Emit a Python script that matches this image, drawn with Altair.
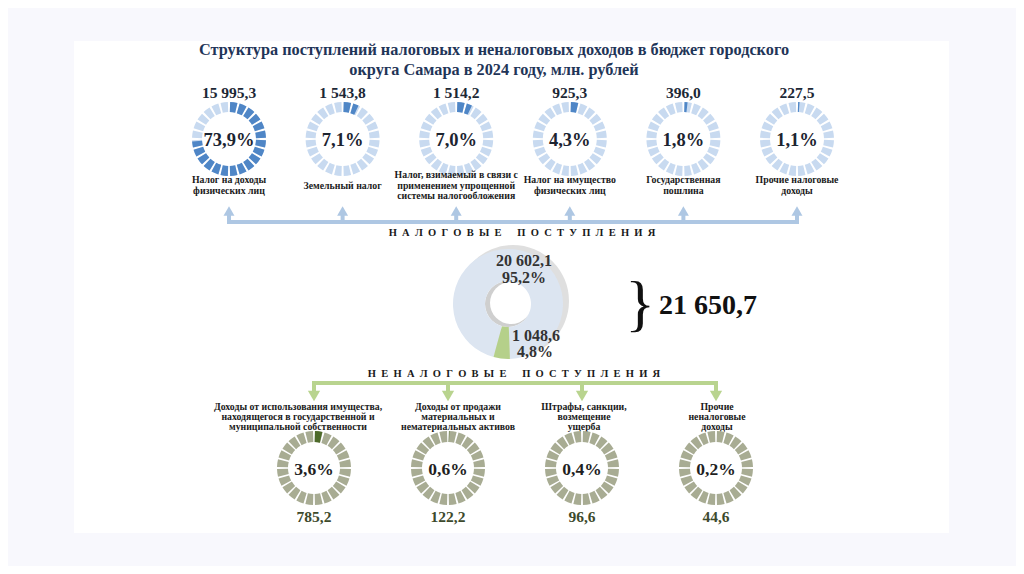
import math
import altair as alt
import pandas as pd

# ---------------- data ----------------
title_lines = [
    "Структура поступлений налоговых и неналоговых доходов в бюджет городского",
    "округа Самара в 2024 году, млн. рублей",
]
tax_names = [
    "Налог на доходы\nфизических лиц",
    "Земельный налог",
    "Налог, взимаемый в связи с\nприменением упрощенной\nсистемы налогообложения",
    "Налог на имущество\nфизических лиц",
    "Государственная\nпошлина",
    "Прочие налоговые\nдоходы",
]
tax_values = [15995.3, 1543.8, 1514.2, 925.3, 396.0, 227.5]
tax_pct = [73.9, 7.1, 7.0, 4.3, 1.8, 1.1]

nontax_names = [
    "Доходы от использования имущества,\nнаходящегося в государственной и\nмуниципальной собственности",
    "Доходы от продажи\nматериальных и\nнематериальных активов",
    "Штрафы, санкции,\nвозмещение\nущерба",
    "Прочие\nненалоговые\nдоходы",
]
nontax_values = [785.2, 122.2, 96.6, 44.6]
nontax_pct = [3.6, 0.6, 0.4, 0.2]

group_names = ["НАЛОГОВЫЕ ПОСТУПЛЕНИЯ", "НЕНАЛОГОВЫЕ ПОСТУПЛЕНИЯ"]
group_values = [20602.1, 1048.6]
group_pct = [95.2, 4.8]
total_value = 21650.7

# ---------------- helpers ----------------
def ru(v):
    return f"{v:,.1f}".replace(",", " ").replace(".", ",")

def pc(p):
    return f"{p:.1f}%".replace(".", ",")

def spaced(s):
    return "\u2002".join(list(s.replace(" ", "\u2002")))

def first_line_y(center, text, lh):
    n = text.count("\n") + 1
    return center - (n - 1) * lh / 2

SERIF = "Liberation Serif"
xs = alt.Scale(domain=[8, 1016], nice=False, zero=False)
ys = alt.Scale(domain=[8, 566], nice=False, zero=False, reverse=True)

def X(f="x"):
    return alt.X(f"{f}:Q", scale=xs, axis=None)

def Y(f="y"):
    return alt.Y(f"{f}:Q", scale=ys, axis=None)

def text_layer(df, size, color="#1a1a1a", weight="bold", align="center",
               baseline="middle", line_height=10, font=SERIF):
    return alt.Chart(pd.DataFrame(df)).mark_text(
        font=font, fontSize=size, fontWeight=weight, color=color, align=align,
        baseline=baseline, lineBreak="\n", lineHeight=line_height
    ).encode(x=X(), y=Y(), text="text:N")

def arc_layer(df, color, r, r2, opacity=1.0):
    return alt.Chart(pd.DataFrame(df)).mark_arc(
        radius=r, radius2=r2, color=color, opacity=opacity
    ).encode(
        x=X("cx"), y=Y("cy"),
        theta=alt.Theta("t0:Q", scale=None, stack=None),
        theta2="t1:Q",
    )

def ring(cx, cy, pct, n=24, gap=3.5):
    w = 360.0 / n
    end = pct / 100.0 * 360.0
    base, fill = [], []
    for i in range(n):
        s = i * w + gap / 2
        e = (i + 1) * w - gap / 2
        base.append(dict(cx=cx, cy=cy, t0=math.radians(s), t1=math.radians(e)))
        if end > s:
            fill.append(dict(cx=cx, cy=cy, t0=math.radians(s),
                             t1=math.radians(min(e, end))))
    return base, fill

# ---------------- layout ----------------
top_cx = [229 + i * 113.6 for i in range(6)]
top_cy = 139
bot_cx = [314, 448, 582, 716]
bot_label_x = [298, 458, 584, 717]
bot_cy = 468
mid_cx, mid_cy = 508, 304

BLUE_D, BLUE_L = "#4f86c6", "#c8daf0"
OLIVE_L, OLIVE_D = "#a8ac93", "#4d6a2a"
ARROW_B, ARROW_G = "#aec7e3", "#b9d48f"

layers = []

# white panel
layers.append(alt.Chart(pd.DataFrame([dict(x=74, x2=949, y=41, y2=533)])).mark_rect(
    color="white").encode(x=X(), x2="x2:Q", y=Y(), y2="y2:Q"))

# title
layers.append(text_layer([dict(x=494, y=50, text=title_lines[0]),
                          dict(x=494, y=70, text=title_lines[1])],
                         16.3, color="#1f3558"))

# top donuts
tb, tf = [], []
for cx, p in zip(top_cx, tax_pct):
    b, f = ring(cx, top_cy, p)
    tb += b; tf += f
layers.append(arc_layer(tb, BLUE_L, 37, 27))
layers.append(arc_layer(tf, BLUE_D, 37, 27))
layers.append(text_layer([dict(x=cx, y=93, text=ru(v)) for cx, v in zip(top_cx, tax_values)],
                         15.5, color="#1c2836"))
layers.append(text_layer([dict(x=cx, y=140, text=pc(p)) for cx, p in zip(top_cx, tax_pct)],
                         18.5, color="#1c2430"))
LH_TOP = 10.5
layers.append(text_layer([dict(x=cx, y=first_line_y(185.5, t, LH_TOP), text=t)
                          for cx, t in zip(top_cx, tax_names)],
                         9.8, color="#1a1a1a", line_height=LH_TOP))

# blue arrows (up)
layers.append(alt.Chart(pd.DataFrame([dict(x=top_cx[0] - 2, x2=top_cx[-1] + 2, y=222)])).mark_rule(
    color=ARROW_B, strokeWidth=4).encode(x=X(), x2="x2:Q", y=Y()))
layers.append(alt.Chart(pd.DataFrame([dict(x=cx, y=213, y2=222) for cx in top_cx])).mark_rule(
    color=ARROW_B, strokeWidth=4).encode(x=X(), y=Y(), y2="y2:Q"))
layers.append(alt.Chart(pd.DataFrame([dict(x=cx, y=211) for cx in top_cx])).mark_point(
    shape="triangle-up", filled=True, size=120, color=ARROW_B, opacity=1).encode(x=X(), y=Y()))
layers.append(text_layer([dict(x=522, y=233, text=spaced(group_names[0]))], 10.5, color="#1a1a1a"))

# middle donut
layers.append(arc_layer([dict(cx=mid_cx + 5, cy=mid_cy - 3, t0=0, t1=2 * math.pi)],
                        "#c4c4c4", 56, 30, opacity=0.55))
layers.append(arc_layer([dict(cx=mid_cx, cy=mid_cy, t0=0, t1=2 * math.pi)], "#cfcfcf", 23, 0))
layers.append(arc_layer([dict(cx=mid_cx + 3, cy=mid_cy - 1, t0=0, t1=2 * math.pi)], "#ffffff", 21, 0))
g_start = math.radians(178)
g_sweep = group_pct[1] / 100 * 2 * math.pi
layers.append(arc_layer([dict(cx=mid_cx, cy=mid_cy, t0=g_start + g_sweep, t1=g_start + 2 * math.pi)],
                        "#dce5f1", 55, 23))
layers.append(arc_layer([dict(cx=mid_cx, cy=mid_cy, t0=g_start, t1=g_start + g_sweep)],
                        "#b5d08a", 55, 23))
layers.append(text_layer([
    dict(x=524, y=261, text=ru(group_values[0])),
    dict(x=524, y=278, text=pc(group_pct[0])),
    dict(x=536, y=336, text=ru(group_values[1])),
    dict(x=535, y=352, text=pc(group_pct[1])),
], 16, color="#333333"))
layers.append(text_layer([dict(x=640, y=305, text="}")], 62, color="#111111", weight="normal"))
layers.append(text_layer([dict(x=708, y=306, text=ru(total_value))], 28, color="#111111"))

# green arrows (down)
layers.append(text_layer([dict(x=514, y=374, text=spaced(group_names[1]))], 10.5, color="#1a1a1a"))
layers.append(alt.Chart(pd.DataFrame([dict(x=bot_cx[0] - 2, x2=bot_cx[-1] + 2, y=383)])).mark_rule(
    color=ARROW_G, strokeWidth=4).encode(x=X(), x2="x2:Q", y=Y()))
layers.append(alt.Chart(pd.DataFrame([dict(x=cx, y=383, y2=392) for cx in bot_cx])).mark_rule(
    color=ARROW_G, strokeWidth=4).encode(x=X(), y=Y(), y2="y2:Q"))
layers.append(alt.Chart(pd.DataFrame([dict(x=cx, y=396) for cx in bot_cx])).mark_point(
    shape="triangle-down", filled=True, size=150, color=ARROW_G, opacity=1).encode(x=X(), y=Y()))
LH_BOT = 10
layers.append(text_layer([dict(x=lx, y=first_line_y(417, t, LH_BOT), text=t)
                          for lx, t in zip(bot_label_x, nontax_names)],
                         9.8, color="#1a1a1a", line_height=LH_BOT))

# bottom donuts
bb, bf = [], []
for cx, p in zip(bot_cx, nontax_pct):
    b, f = ring(cx, bot_cy, p, gap=3.0)
    bb += b; bf += f
layers.append(arc_layer(bb, OLIVE_L, 37, 26))
layers.append(arc_layer(bf, OLIVE_D, 37, 26))
layers.append(text_layer([dict(x=cx, y=470, text=pc(p)) for cx, p in zip(bot_cx, nontax_pct)],
                         17.5, color="#1f1f1f"))
layers.append(text_layer([dict(x=cx, y=517, text=ru(v)) for cx, v in zip(bot_cx, nontax_values)],
                         15.5, color="#3d4a2c"))

chart = alt.layer(*layers).properties(
    width=1008, height=558, padding=0,
    autosize=alt.AutoSizeParams(type="none"),
    background="#f8f8fd",
).configure_view(stroke=None)

chart.save("out.html", embed_options={"renderer": "svg", "actions": False})
